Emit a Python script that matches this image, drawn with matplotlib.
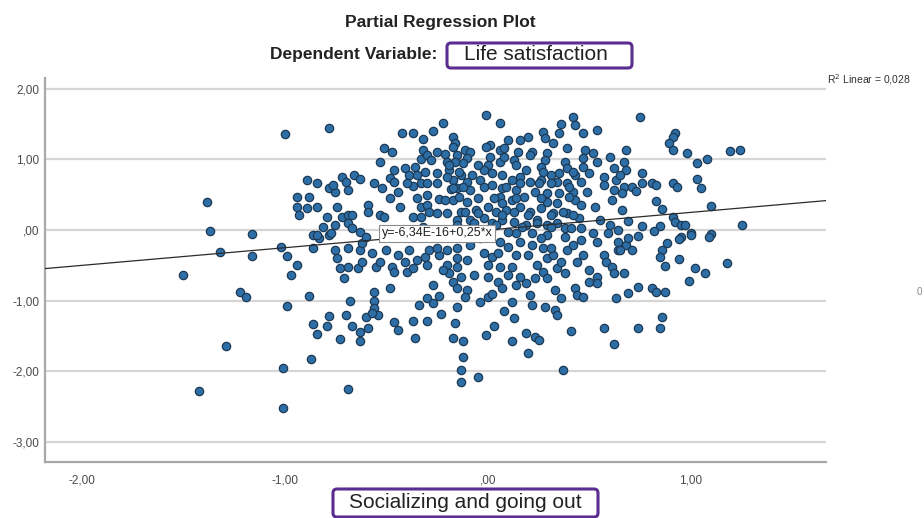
import numpy as np
import matplotlib
matplotlib.use("Agg")
import matplotlib.pyplot as plt
from matplotlib.patches import FancyBboxPatch

plt.rcParams['font.family'] = ['Liberation Sans', 'DejaVu Sans']

# ---------------- text / labels ----------------
title = "Partial Regression Plot"
dep_label = "Dependent Variable:"
dep_var = "Life satisfaction"
x_label = "Socializing and going out"
eq_label = "y=-6,34E-16+0,25*x"
r2_label = "R$^2$ Linear = 0,028"

# ---------------- fit ----------------
fit_intercept = -6.34e-16
fit_slope = 0.25

# ---------------- ticks ----------------
x_ticks = [-2, -1, 0, 1]
x_ticklabels = ["-2,00", "-1,00", ",00", "1,00"]
y_ticks = [2, 1, 0, -1, -2, -3]
y_ticklabels = ["2,00", "1,00", ",00", "-1,00", "-2,00", "-3,00"]

# ---------------- residual points (x, y) ----------------
pts_left = [(-1.50,-0.64),(-1.38,0.40),(-1.37,-0.01),(-1.32,-0.31),(-1.42,-2.27),(-1.29,-1.64),
            (-1.22,-0.88),(-1.19,-0.95),(-1.16,-0.06),(-1.16,-0.37),(-1.02,-0.24),(-0.99,-0.37),
            (-1.01,-1.95),(-1.01,-2.51),(-1.00,1.36),(-0.78,1.44)]

pts_low_left = [(-0.86,-0.25),(-0.94,-0.49),(-0.97,-0.64),(-0.88,-0.93),(-0.99,-1.07),(-0.78,-1.21),
                (-0.70,-1.20),(-0.68,-1.00),(-0.86,-1.33),(-0.79,-1.36),(-0.84,-1.47),(-0.73,-1.54),
                (-0.67,-1.36),(-0.63,-1.44),(-0.63,-1.57),(-0.59,-1.38),(-0.60,-1.23),(-0.56,-0.88),
                (-0.56,-1.00),(-0.56,-1.10),(-0.54,-1.20),(-0.57,-1.17),(-0.46,-1.30),(-0.44,-1.41),
                (-0.48,-0.82),(-0.37,-1.29),(-0.36,-1.53),(-0.30,-1.29),(-0.23,-1.19),(-0.30,-0.96),
                (-0.27,-1.03),(-0.34,-1.06),(-0.24,-0.93),(-0.27,-0.78),(-0.16,-1.31),(-0.17,-1.53),
                (-0.87,-1.82),(-0.69,-2.25),(-0.71,-0.68),(-0.73,-0.54),(-0.69,-0.52),(-0.64,-0.54),
                (-0.62,-0.45),(-0.74,-0.40),(-0.75,-0.28),(-0.69,-0.25),(-0.63,-0.28),(-0.57,-0.32),
                (-0.62,-0.18),(-0.55,-0.52),(-0.53,-0.45),(-0.47,-0.52),(-0.46,-0.59),(-0.41,-0.45),
                (-0.40,-0.59),(-0.37,-0.54),(-0.35,-0.42),(-0.31,-0.38),(-0.30,-0.49),(-0.44,-0.35),
                (-0.50,-0.28),(-0.39,-0.28),(-0.29,-0.28),(-0.24,-0.35),(-0.20,-0.49),(-0.19,-0.61),
                (-0.22,-0.56),(-0.17,-0.73),(-0.15,-0.82),(-0.25,-0.25),(-0.20,-0.28),(-0.15,-0.40),
                (-0.15,-1.09),(-0.83,-0.11),(-0.78,-0.07)]

pts_up_left = [(-0.42,1.37),(-0.37,1.37),(-0.27,1.40),(-0.22,1.51),(-0.17,1.31),(-0.51,1.16),
               (-0.47,1.10),(-0.32,1.29),(-0.32,1.13),(-0.25,1.10),(-0.21,1.08),(-0.16,1.23),
               (-0.53,0.96),(-0.33,1.00),(-0.30,1.06),(-0.28,0.99),(-0.20,0.96),(-0.36,0.89),
               (-0.41,0.88),(-0.46,0.85),(-0.48,0.73),(-0.39,0.78),(-0.35,0.78),(-0.31,0.82),
               (-0.25,0.81),(-0.19,0.85),(-0.33,0.66),(-0.30,0.66),(-0.25,0.66),(-0.17,0.71),
               (-0.37,0.62),(-0.40,0.67),(-0.56,0.66),(-0.52,0.59),(-0.46,0.68),(-0.44,0.54),
               (-0.24,0.44),(-0.30,0.49),(-0.35,0.45),(-0.33,0.32),(-0.30,0.35),(-0.18,0.58),
               (-0.17,0.42),(-0.37,0.18),(-0.33,0.18),(-0.43,0.32),(-0.48,0.45),(-0.59,0.35),
               (-0.59,0.25),(-0.53,0.21),(-0.51,0.18),(-0.89,0.71),(-0.84,0.66),(-0.72,0.75),
               (-0.70,0.68),(-0.66,0.78),(-0.63,0.72),(-0.78,0.59),(-0.75,0.54),(-0.69,0.56),
               (-0.76,0.64),(-0.94,0.47),(-0.88,0.47),(-0.94,0.32),(-0.89,0.31),(-0.84,0.32),
               (-0.93,0.21),(-0.79,0.18),(-0.74,0.32),(-0.72,0.18),(-0.69,0.21),(-0.67,0.21),
               (-0.75,0.07),(-0.69,0.10),(-0.81,0.04),(-0.86,-0.07),(-0.84,-0.07),(-0.77,-0.04),
               (-0.67,0.03),(-0.63,-0.03),(-0.60,-0.10),(-0.29,0.25),(-0.25,0.24),(-0.20,0.24),
               (-0.32,0.04),(-0.30,-0.03)]

pts_up_mid = [(-0.01,1.62),(0.06,1.51),(0.36,1.50),(0.42,1.60),(0.43,1.48),(0.47,1.37),(0.54,1.41),
              (0.27,1.38),(0.35,1.37),(0.28,1.30),(0.16,1.27),(0.20,1.31),(0.10,1.27),(0.01,1.20),
              (-0.01,1.17),(0.06,1.13),(-0.17,1.17),(-0.11,1.13),(-0.09,1.10),(-0.15,1.06),
              (-0.10,1.02),(0.22,1.10),(0.21,1.06),(0.29,1.09),(0.28,0.99),(0.39,1.16),(0.48,1.13),
              (0.52,1.09),(0.60,1.03),(0.68,1.13),(0.67,0.96),(0.68,0.85),(0.62,0.88),(0.54,0.96),
              (0.47,1.02),(0.38,0.96),(0.47,0.89),(0.50,0.81),(0.57,0.75),(0.63,0.71),(0.57,0.64),
              (0.67,0.61),(0.62,0.56),(0.00,0.92),(0.06,0.96),(0.08,1.03),(0.13,0.99),(0.14,0.92),
              (0.19,0.85),(0.26,0.89),(0.27,0.82),(0.31,0.78),(0.35,0.81),(0.39,0.88),(0.43,0.78),
              (0.46,0.68),(0.39,0.66),(0.34,0.68),(0.31,0.66),(0.26,0.71),(0.21,0.68),(0.16,0.75),
              (0.12,0.71),(0.07,0.78),(0.02,0.81),(-0.02,0.85),(-0.05,0.92),(-0.12,0.95),
              (-0.16,0.96),(-0.13,0.78),(-0.08,0.78),(-0.04,0.71),(-0.10,0.68),(-0.15,0.59),
              (-0.09,0.56),(-0.02,0.61),(0.02,0.64),(0.07,0.59),(0.14,0.56),(0.06,0.47),(0.12,0.42),
              (0.18,0.47),(0.23,0.54),(0.29,0.52),(0.35,0.52),(0.42,0.54),(0.49,0.54),(0.29,0.40),
              (0.34,0.38),(0.43,0.42),(0.46,0.35),(0.53,0.32),(0.61,0.42),(0.66,0.28),(-0.10,0.40),
              (-0.05,0.45),(0.00,0.32),(-0.06,0.28),(-0.13,0.25),(0.04,0.25),(0.09,0.28),(0.16,0.32),
              (0.21,0.25),(0.26,0.31),(0.32,0.24),(0.39,0.24),(0.45,0.17),(0.55,0.14),(0.60,0.07),
              (-0.15,0.14),(-0.09,0.14),(-0.02,0.17),(0.02,0.10),(0.07,0.14),(0.13,0.11),(0.19,0.07),
              (0.24,0.14),(0.29,0.07),(0.34,0.10),(0.38,0.03),(0.46,0.03),(0.52,-0.04),(0.59,-0.04),
              (0.64,0.00),(0.29,-0.07),(0.22,-0.04),(0.14,-0.04),(0.10,-0.03)]

pts_center_extra = [(0.01,1.03),(0.08,1.16),(0.15,1.10),(0.32,1.23),(-0.19,0.92),(-0.14,0.82),
                    (-0.20,0.75),(0.42,0.82),(-0.17,0.59),(-0.12,0.61),(0.09,0.61),(0.16,0.66),
                    (0.25,0.66),(0.40,0.61),(-0.21,0.42),(-0.14,0.47),(0.03,0.45),(0.07,0.38),
                    (0.14,0.45),(0.26,0.45),(0.40,0.47),(-0.11,0.25),(-0.05,0.24),(0.07,0.21),
                    (0.13,0.25),(0.20,0.21),(0.31,0.21),(0.37,0.25),(0.42,0.21),(-0.15,0.07),
                    (-0.07,0.10),(0.04,0.07),(0.17,0.04),(0.24,0.10),(0.31,0.04),(0.41,0.03)]

pts_low_mid = [(-0.15,-0.25),(-0.10,-0.42),(-0.15,-0.52),(-0.13,-0.66),(-0.07,-0.64),(-0.10,-0.85),
               (-0.11,-0.95),(-0.04,-1.02),(0.00,-0.95),(0.02,-0.90),(-0.02,-0.32),(0.02,-0.38),
               (0.05,-0.32),(0.00,-0.49),(0.06,-0.52),(0.00,-0.66),(0.05,-0.73),(0.07,-0.82),
               (0.10,-0.64),(0.12,-0.52),(0.14,-0.35),(0.10,-0.24),(0.16,-0.66),(0.19,-0.75),
               (0.14,-0.78),(0.12,-1.02),(0.21,-0.92),(0.22,-1.06),(0.08,-1.14),(0.13,-1.24),
               (0.20,-0.35),(0.24,-0.49),(0.23,-0.68),(0.27,-0.59),(0.29,-0.68),(0.29,-0.40),
               (0.32,-0.35),(0.34,-0.54),(0.36,-0.45),(0.38,-0.61),(0.33,-0.85),(0.36,-0.96),
               (0.28,-1.09),(0.33,-1.13),(0.34,-1.20),(0.22,-0.21),(0.27,-0.25),(0.31,-0.25),
               (0.39,-0.28),(0.42,-0.21),(0.47,-0.35),(0.44,-0.45),(0.43,-0.82),(0.44,-0.92),
               (0.47,-0.95),(0.50,-0.56),(0.54,-0.66),(0.50,-0.73),(0.54,-0.75),(0.57,-0.35),
               (0.58,-0.45),(0.61,-0.52),(0.62,-0.61),(0.67,-0.61),(0.64,-0.28),(0.68,-0.21),
               (0.63,-0.96),(0.69,-0.89),(0.03,-1.36),(-0.01,-1.48),(-0.12,-1.57),(0.12,-1.57),
               (0.19,-1.45),(0.23,-1.51),(0.25,-1.55),(0.20,-1.74),(0.41,-1.43),(0.57,-1.38),
               (0.62,-1.61),(-0.12,-1.79),(-0.13,-1.98),(-0.05,-2.08),(-0.13,-2.15),(0.37,-1.98),
               (0.64,-0.17),(0.54,-0.17),(0.46,-0.14),(-0.04,-0.11),(-0.09,-0.21),(0.06,-0.17),
               (0.16,-0.17),(0.26,-0.11),(0.38,-0.10)]

pts_up_right = [(0.75,1.60),(0.92,1.37),(0.91,1.31),(0.89,1.23),(0.91,1.13),(0.98,1.09),(1.03,0.95),
                (1.08,1.00),(1.19,1.12),(1.24,1.13),(0.65,0.78),(0.76,0.81),(0.71,0.61),(0.73,0.55),
                (0.76,0.66),(0.81,0.66),(0.83,0.64),(0.91,0.66),(0.93,0.61),(1.03,0.72),(1.05,0.59),
                (0.66,0.52),(0.83,0.41),(0.86,0.30),(1.10,0.34),(0.91,0.18),(0.92,0.11),(0.95,0.07),
                (0.97,0.07),(0.69,0.13),(0.76,0.06),(0.85,0.06),(0.82,-0.01),(1.25,0.07),(0.74,-0.08),
                (1.00,-0.04),(1.10,-0.06),(0.95,-0.10)]

pts_low_right = [(0.69,-0.11),(0.65,-0.28),(0.71,-0.28),(0.88,-0.18),(0.86,-0.28),(0.85,-0.38),
                 (0.94,-0.13),(0.94,-0.41),(0.87,-0.51),(1.02,-0.54),(1.07,-0.61),(0.99,-0.72),
                 (1.18,-0.47),(0.74,-0.81),(0.81,-0.82),(0.83,-0.88),(0.87,-0.88),(0.86,-1.23),
                 (0.74,-1.38),(0.85,-1.38),(1.09,-0.10),(1.00,-0.07)]

all_pts = np.array(pts_left + pts_low_left + pts_up_left + pts_up_mid + pts_center_extra +
                   pts_low_mid + pts_up_right + pts_low_right)
resid_x = all_pts[:, 0]
resid_y = all_pts[:, 1]

# ---------------- figure ----------------
W, H = 924, 518
fig = plt.figure(figsize=(W / 100, H / 100), dpi=100)
fig.patch.set_facecolor('white')
ax = fig.add_axes([45 / W, 56 / H, 781 / W, 384 / H])
ax.set_xlim(-2.18, 1.665)
ax.set_ylim(-3.28, 2.15)

for yt in y_ticks:
    ax.axhline(yt, color='#d6d6d6', lw=1.6, zorder=1)

ax.scatter(resid_x, resid_y, s=36, c='#2e6ea6', edgecolors='#1d3a55',
           linewidths=0.9, zorder=3)

xs = np.array(ax.get_xlim())
ax.plot(xs, fit_intercept + fit_slope * xs, color='#2b2b2b', lw=0.9, zorder=4)

ax.text(-0.25, -0.045, eq_label, ha='center', va='center', fontsize=9,
        color='#222222', zorder=5,
        bbox=dict(boxstyle='square,pad=0.2', fc='white', ec='#8c8c8c', lw=0.8))

ax.set_xticks(x_ticks)
ax.set_xticklabels(x_ticklabels)
ax.set_yticks(y_ticks)
ax.set_yticklabels(y_ticklabels)
ax.tick_params(axis='both', length=0, labelsize=8.5, colors='#4a4a4a')
ax.tick_params(axis='x', pad=9)
ax.tick_params(axis='y', pad=4)
for s in ['top', 'right']:
    ax.spines[s].set_visible(False)
for s in ['left', 'bottom']:
    ax.spines[s].set_color('#a8a8a8')
    ax.spines[s].set_linewidth(1.6)

# ---------------- titles and boxes ----------------
fig.text(440 / W, 1 - 22 / H, title, ha='center', va='center',
         fontsize=12.5, weight='bold', color='#222222')
fig.text(437 / W, 1 - 55 / H, dep_label, ha='right', va='center',
         fontsize=12.5, weight='bold', color='#222222')

def purple_box(x0, y0, w, h):
    patch = FancyBboxPatch((x0 / W, 1 - (y0 + h) / H), w / W, h / H,
                           boxstyle='round,pad=0,rounding_size=%f' % (4 / W),
                           mutation_aspect=W / H, transform=fig.transFigure,
                           fc='white', ec='#5c2d91', lw=2.2, zorder=5)
    fig.patches.append(patch)

purple_box(447, 43, 185, 25)
fig.text(536 / W, 1 - 55 / H, dep_var, ha='center', va='center',
         fontsize=15, color='#222222', zorder=6)

purple_box(333, 489, 265, 28)
fig.text(465 / W, 1 - 503 / H, x_label, ha='center', va='center',
         fontsize=15, color='#222222', zorder=6)

fig.text(827 / W, 1 - 80 / H, r2_label, ha='left', va='center',
         fontsize=7.5, color='#333333')
fig.text(917 / W, 1 - 292 / H, "0", ha='left', va='center',
         fontsize=7, color='#888888')

fig.savefig('out.png', dpi=100, facecolor='white')
